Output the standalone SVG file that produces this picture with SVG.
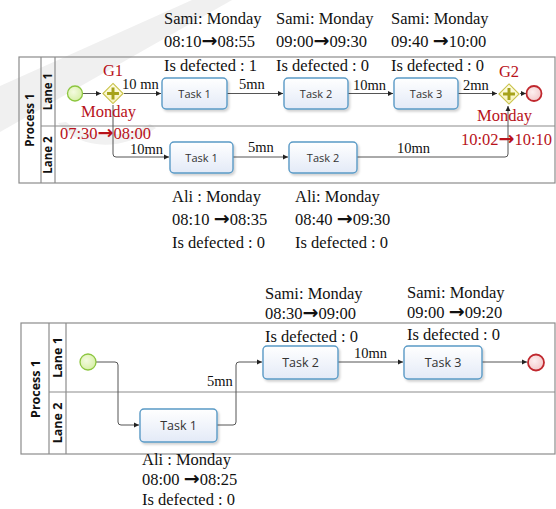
<svg xmlns="http://www.w3.org/2000/svg" width="556" height="509" viewBox="0 0 556 509">
<defs>
<linearGradient id="taskFill" x1="0" y1="0" x2="0" y2="1"><stop offset="0" stop-color="#ffffff"/><stop offset="1" stop-color="#e3eaf7"/></linearGradient>
<radialGradient id="startFill" cx="0.4" cy="0.4" r="0.7"><stop offset="0" stop-color="#f4fbe0"/><stop offset="1" stop-color="#d4eea0"/></radialGradient>
<radialGradient id="endFill" cx="0.4" cy="0.4" r="0.7"><stop offset="0" stop-color="#fdf0f0"/><stop offset="1" stop-color="#f2c4c6"/></radialGradient>
<linearGradient id="gwFill" x1="0" y1="0" x2="0" y2="1"><stop offset="0" stop-color="#fffde8"/><stop offset="1" stop-color="#f6f2b8"/></linearGradient>
<filter id="sh" x="-20%" y="-20%" width="140%" height="150%"><feDropShadow dx="1.5" dy="2" stdDeviation="1.2" flood-color="#000" flood-opacity="0.18"/></filter>
<marker id="arr" markerWidth="6" markerHeight="6" refX="5" refY="3" orient="auto" markerUnits="userSpaceOnUse"><path d="M0,0.5 L5,3 L0,5.5 Z" fill="#222"/></marker>
<symbol id="gw" viewBox="-12 -12 24 24" overflow="visible">
<path d="M0,-11 L11,0 L0,11 L-11,0 Z" fill="url(#gwFill)" stroke="#c9c24a" stroke-width="1.2"/>
<path d="M0,-6.5 V6.5 M-6.5,0 H6.5" stroke="#a6a21a" stroke-width="3.2"/>
</symbol>
</defs>
<style>
.pool{fill:none;stroke:#8c8c8c;stroke-width:1.2}
.task rect.b{fill:url(#taskFill);stroke:#5a9ac6;stroke-width:1.4;filter:url(#sh)}
.tl{font-family:"Open Sans","Noto Sans",sans-serif;font-size:11px;fill:#333;text-anchor:middle}
.tl2{font-family:"Open Sans","Noto Sans",sans-serif;font-size:12.5px;fill:#333;text-anchor:middle}
.lane{font-family:"Open Sans","Noto Sans",sans-serif;font-weight:bold;fill:#111;text-anchor:middle}
.t{font-family:"Liberation Serif","Times New Roman",serif;font-size:16.5px;fill:#111}
.r{font-family:"Liberation Serif","Times New Roman",serif;font-size:16.5px;fill:#b8121a}
.c{font-family:"Liberation Serif","Times New Roman",serif;font-size:14.5px;fill:#111}
.ar{font-family:"DejaVu Sans",sans-serif;font-weight:bold;font-size:19px}
.con path{fill:none;stroke:#555;stroke-width:1;marker-end:url(#arr)}
.start{fill:url(#startFill);stroke:#8cc63f;stroke-width:1.3}
.end{fill:url(#endFill);stroke:#c0282e;stroke-width:1.8}
</style>
<rect width="556" height="509" fill="#ffffff"/>
<!-- faint watermark -->
<path d="M192,0 L232,0 L0,132 L0,86 Z" fill="#f0f0f0"/>
<path d="M58,123 C80,150 120,152 156,128 L150,124 C118,140 86,138 66,122 Z" fill="#f1f1f1"/>

<!-- ===== TOP DIAGRAM ===== -->
<g id="pool1">
<rect class="pool" x="19" y="57" width="536" height="126"/>
<line class="pool" x1="41" y1="57" x2="41" y2="183"/>
<line class="pool" x1="55" y1="57" x2="55" y2="183"/>
<line class="pool" x1="41" y1="126" x2="555" y2="126"/>
<text class="lane" font-size="11.5" transform="translate(34,120) rotate(-90)">Process 1</text>
<text class="lane" font-size="11.5" transform="translate(52,91.5) rotate(-90)">Lane 1</text>
<text class="lane" font-size="11.5" transform="translate(52,155) rotate(-90)">Lane 2</text>
</g>

<g id="conn1" class="con">
<path d="M83,93.5 H101"/>
<path d="M124,93.5 H161"/>
<path d="M227,93.5 H283"/>
<path d="M348,93.5 H393"/>
<path d="M458,93.5 H497"/>
<path d="M520,93.5 H526"/>
<path d="M113,105 V154 Q113,157 116,157 H169"/>
<path d="M233,157 H288"/>
<path d="M357,157 H505 Q508,157 508,154 V106"/>
</g>

<g id="t1start"><circle class="start" cx="75" cy="93.5" r="7.5"/></g>
<g id="t1g1"><use href="#gw" x="102" y="82.5" width="22" height="22"/></g>
<g id="t1g2"><use href="#gw" x="498" y="83" width="22" height="22"/></g>
<g id="t1end"><circle class="end" cx="534" cy="93.5" r="7.5"/></g>

<g id="t1task1" class="task"><rect class="b" x="162" y="78" width="65" height="31" rx="4"/><text class="tl" x="194.5" y="97.5">Task 1</text></g>
<g id="t1task2" class="task"><rect class="b" x="284" y="78" width="64" height="31" rx="4"/><text class="tl" x="316" y="97.5">Task 2</text></g>
<g id="t1task3" class="task"><rect class="b" x="394" y="78" width="64" height="31" rx="4"/><text class="tl" x="426" y="97.5">Task 3</text></g>
<g id="t1l2task1" class="task"><rect class="b" x="170" y="142" width="63" height="31" rx="4"/><text class="tl" x="201.5" y="161.5">Task 1</text></g>
<g id="t1l2task2" class="task"><rect class="b" x="289" y="142" width="68" height="31" rx="4"/><text class="tl" x="323" y="161.5">Task 2</text></g>

<g id="labels1">
<text class="c" x="122" y="89">10 mn</text>
<text class="c" x="239" y="89">5mn</text>
<text class="c" x="353" y="90">10mn</text>
<text class="c" x="463" y="90">2mn</text>
<text class="c" x="130" y="154">10mn</text>
<text class="c" x="248" y="152">5mn</text>
<text class="c" x="397" y="153">10mn</text>
<text class="r" x="113" y="76" text-anchor="middle">G1</text>
<text class="r" x="81" y="117">Monday</text>
<text class="r" x="60" y="139">07:30<tspan class="ar">→</tspan>08:00</text>
<text class="r" x="509" y="77" text-anchor="middle">G2</text>
<text class="r" x="477" y="121">Monday</text>
<text class="r" x="461" y="145">10:02<tspan class="ar">→</tspan>10:10</text>
<text class="t" x="164" y="24">Sami: Monday</text>
<text class="t" x="164" y="47">08:10<tspan class="ar">→</tspan>08:55</text>
<text class="t" x="164" y="71">Is defected : 1</text>
<text class="t" x="276" y="24">Sami: Monday</text>
<text class="t" x="276" y="47">09:00<tspan class="ar">→</tspan>09:30</text>
<text class="t" x="276" y="71">Is defected : 0</text>
<text class="t" x="391" y="24">Sami: Monday</text>
<text class="t" x="391" y="47">09:40 <tspan class="ar">→</tspan>10:00</text>
<text class="t" x="391" y="71">Is defected : 0</text>
<text class="t" x="172" y="202">Ali : Monday</text>
<text class="t" x="172" y="225">08:10 <tspan class="ar">→</tspan>08:35</text>
<text class="t" x="172" y="248">Is defected : 0</text>
<text class="t" x="295" y="202">Ali: Monday</text>
<text class="t" x="295" y="225">08:40 <tspan class="ar">→</tspan>09:30</text>
<text class="t" x="295" y="248">Is defected : 0</text>
</g>

<!-- ===== BOTTOM DIAGRAM ===== -->
<g id="pool2">
<rect class="pool" x="21" y="323" width="534" height="131"/>
<line class="pool" x1="49" y1="323" x2="49" y2="454"/>
<line class="pool" x1="66" y1="323" x2="66" y2="454"/>
<line class="pool" x1="49" y1="392" x2="555" y2="392"/>
<text class="lane" font-size="12.5" transform="translate(40,389) rotate(-90)">Process 1</text>
<text class="lane" font-size="12.5" transform="translate(62,357.5) rotate(-90)">Lane 1</text>
<text class="lane" font-size="12.5" transform="translate(62,423) rotate(-90)">Lane 2</text>
</g>

<g id="conn2" class="con">
<path d="M96,362 H115 Q118,362 118,365 V422 Q118,425 121,425 H139"/>
<path d="M217,425 H233 Q236,425 236,422 V365 Q236,362 239,362 H262"/>
<path d="M338,362 H403"/>
<path d="M482,362 H527"/>
</g>

<g id="b2start"><circle class="start" cx="88" cy="362" r="8"/></g>
<g id="b2end"><circle class="end" cx="536" cy="362.5" r="8"/></g>
<g id="b2task1" class="task"><rect class="b" x="140" y="409" width="77" height="33" rx="4"/><text class="tl2" x="178.5" y="430">Task 1</text></g>
<g id="b2task2" class="task"><rect class="b" x="263" y="346" width="75" height="33" rx="4"/><text class="tl2" x="300.5" y="367">Task 2</text></g>
<g id="b2task3" class="task"><rect class="b" x="404" y="346" width="78" height="33" rx="4"/><text class="tl2" x="443" y="367">Task 3</text></g>

<g id="labels2">
<text class="c" x="207" y="386">5mn</text>
<text class="c" x="354" y="358">10mn</text>
<text class="t" x="265" y="298.5">Sami: Monday</text>
<text class="t" x="265" y="319">08:30<tspan class="ar" font-size="17.5">→</tspan>09:00</text>
<text class="t" x="265" y="341.5">Is defected : 0</text>
<text class="t" x="407" y="297.5">Sami: Monday</text>
<text class="t" x="407" y="318">09:00 <tspan class="ar" font-size="17.5">→</tspan>09:20</text>
<text class="t" x="407" y="340">Is defected : 0</text>
<text class="t" x="142" y="465">Ali : Monday</text>
<text class="t" x="142" y="485">08:00 <tspan class="ar" font-size="17.5">→</tspan>08:25</text>
<text class="t" x="142" y="505">Is defected : 0</text>
</g>
</svg>
